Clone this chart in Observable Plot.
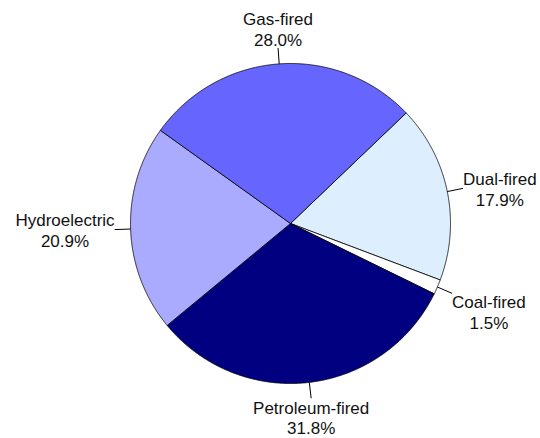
<!DOCTYPE html>
<html><head><meta charset="utf-8">
<script src="https://cdn.jsdelivr.net/npm/d3@7"></script>
<script src="https://cdn.jsdelivr.net/npm/@observablehq/plot@0.6"></script>
<style>body{margin:0;background:#fff}</style>
</head><body><div id="chart"></div>
<script>
// Data (clockwise from the Gas/Dual boundary)
const categories = ["Dual-fired", "Coal-fired", "Petroleum-fired", "Hydroelectric", "Gas-fired"];
const shares = [17.9, 1.5, 31.8, 20.9, 28.0];
const colors = ["#DDEEFF", "#FFFFFF", "#000080", "#AAAAFF", "#6666FF"];

// Layout
const W = 540, H = 438, cx = 290, cy = 223, R = 160;
const startDeg = 46.3;
const leaderIn = 1.0, leaderOut = 1.1;
const fontSize = 17, lineH = 1.235;
const fontFamily = "'Liberation Sans', Arial, sans-serif";

const a0 = startDeg * Math.PI / 180;
const arcs = d3.pie().sort(null).startAngle(a0).endAngle(a0 + 2 * Math.PI)(shares);

// slice polygons in unit coordinates (y up)
const slicePts = [];
arcs.forEach((a, i) => {
  const name = categories[i];
  slicePts.push({name, x: 0, y: 0});
  const n = Math.max(2, Math.ceil((a.endAngle - a.startAngle) / (Math.PI / 720)));
  for (let k = 0; k <= n; k++) {
    const t = a.startAngle + (a.endAngle - a.startAngle) * k / n;
    slicePts.push({name, x: Math.sin(t), y: Math.cos(t)});
  }
  slicePts.push({name, x: 0, y: 0});
});

// text measuring
const ctx = document.createElement("canvas").getContext("2d");
ctx.font = `${fontSize}px ${fontFamily}`;
const f = u => Math.sign(u) * Math.min(1, Math.max(0, (Math.abs(u) - 0.2) * 5));

const leaders = [], labels = [];
arcs.forEach((a, i) => {
  const m = (a.startAngle + a.endAngle) / 2;
  const sx = Math.sin(m), sy = Math.cos(m);
  leaders.push({x1: sx * leaderIn, y1: sy * leaderIn, x2: sx * leaderOut, y2: sy * leaderOut});
  const lines = [categories[i], shares[i].toFixed(1) + "%"];
  const w = Math.max(...lines.map(s => ctx.measureText(s).width));
  const h = lines.length * lineH * fontSize - 4;
  const ox = w / 2 * f(sx);          // pixels, right
  const oyDown = h / 2 * f(-sy);     // pixels, down
  labels.push({
    text: lines.join("\n"),
    x: sx * leaderOut + ox / R,
    y: sy * leaderOut - oyDown / R
  });
});

const chart = Plot.plot({
  width: W, height: H, margin: 0,
  x: {domain: [-cx / R, (W - cx) / R], axis: null},
  y: {domain: [-(H - cy) / R, cy / R], axis: null},
  color: {domain: categories, range: colors},
  style: {background: "#fff"},
  marks: [
    Plot.line(slicePts, {x: "x", y: "y", z: "name", fill: "name", stroke: "#000", strokeWidth: 0.8, strokeLinejoin: "round"}),
    Plot.link(leaders, {x1: "x1", y1: "y1", x2: "x2", y2: "y2", stroke: "#000", strokeWidth: 1}),
    Plot.text(labels, {x: "x", y: "y", text: "text", fontSize, lineHeight: lineH, fontFamily, fill: "#111", textAnchor: "middle", lineAnchor: "middle"})
  ]
});
document.getElementById("chart").appendChild(chart);
</script>
</body></html>
